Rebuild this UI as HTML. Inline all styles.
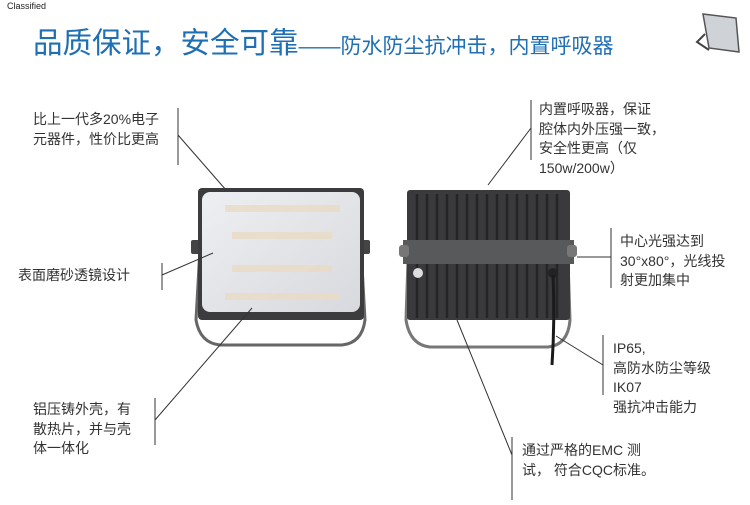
<!DOCTYPE html><html><head><meta charset="utf-8"><style>
body{margin:0;width:750px;height:505px;background:#fff;position:relative;overflow:hidden;font-family:"Liberation Sans","Noto Sans CJK SC",sans-serif}
.t{position:absolute;font-size:14px;line-height:19.5px;color:#333;white-space:nowrap}
</style></head><body>
<div class="t" style="left:7px;top:1px;font-size:9px;line-height:11px;color:#222">Classified</div>
<div style="position:absolute;left:33px;top:20px;color:#1f6fb4;white-space:nowrap;font-family:'Liberation Sans','Noto Sans CJK SC',sans-serif"><span style="font-size:29.5px">品质保证，安全可靠</span><span style="font-size:21px">——防水防尘抗冲击，内置呼吸器</span></div>
<svg width="750" height="505" style="position:absolute;left:0;top:0">
<defs><linearGradient id="g" x1="0" y1="0" x2="1" y2="1"><stop offset="0" stop-color="#eeeff2"/><stop offset="1" stop-color="#d8d9de"/></linearGradient></defs>
<g transform="translate(693,12)"><polygon points="10,2 43,6 46,40 16,36" fill="#cfd2d6" stroke="#555" stroke-width="1.5"/><path d="M12,22 L4,30 L16,38" fill="none" stroke="#444" stroke-width="2"/></g>
<path d="M200,248 L196,320 Q200,343 220,345 L342,345 Q362,343 365,320 L361,248" fill="none" stroke="#666" stroke-width="3"/>
<rect x="191" y="240" width="9" height="14" rx="2" fill="#444"/><rect x="361" y="240" width="9" height="14" rx="2" fill="#444"/>
<rect x="198" y="188" width="166" height="132" rx="4" fill="#3c3c3e"/>
<rect x="202" y="192" width="158" height="120" rx="8" fill="url(#g)"/>
<g fill="#eadcc4" opacity="0.8"><rect x="225" y="205" width="115" height="7"/><rect x="232" y="232" width="100" height="7"/><rect x="232" y="265" width="100" height="7"/><rect x="225" y="293" width="115" height="7"/></g>
<path d="M408,260 L406,320 Q410,345 430,347 L548,347 Q568,345 570,320 L568,260" fill="none" stroke="#777" stroke-width="3"/>
<rect x="407" y="190" width="163" height="130" rx="3" fill="#3a3a3c"/>
<g stroke="#252527" stroke-width="2.5">
<line x1="417" y1="194" x2="417" y2="318"/><line x1="427" y1="194" x2="427" y2="318"/><line x1="437" y1="194" x2="437" y2="318"/><line x1="447" y1="194" x2="447" y2="318"/><line x1="457" y1="194" x2="457" y2="318"/><line x1="467" y1="194" x2="467" y2="318"/><line x1="477" y1="194" x2="477" y2="318"/><line x1="487" y1="194" x2="487" y2="318"/><line x1="497" y1="194" x2="497" y2="318"/><line x1="507" y1="194" x2="507" y2="318"/><line x1="517" y1="194" x2="517" y2="318"/><line x1="527" y1="194" x2="527" y2="318"/><line x1="537" y1="194" x2="537" y2="318"/><line x1="547" y1="194" x2="547" y2="318"/><line x1="557" y1="194" x2="557" y2="318"/></g>
<rect x="403" y="240" width="171" height="24" fill="#58595b"/>
<rect x="399" y="245" width="10" height="12" rx="3" fill="#777"/><rect x="567" y="245" width="10" height="12" rx="3" fill="#777"/>
<circle cx="418" cy="273" r="5" fill="#ddd"/><circle cx="553" cy="273" r="5" fill="#222"/>
<path d="M553,275 Q555,320 552,365" fill="none" stroke="#1a1a1a" stroke-width="3"/>
<g stroke="#333" stroke-width="1" fill="none">
<line x1="178" y1="108" x2="178" y2="165"/><line x1="178" y1="135" x2="226" y2="190"/>
<line x1="162" y1="263" x2="162" y2="290"/><line x1="162" y1="275" x2="213" y2="253"/>
<line x1="155" y1="398" x2="155" y2="445"/><line x1="155" y1="420" x2="252" y2="308"/>
<line x1="531" y1="100" x2="531" y2="160"/><line x1="531" y1="128" x2="488" y2="185"/>
<line x1="611" y1="228" x2="611" y2="288"/><line x1="611" y1="257" x2="577" y2="257"/>
<line x1="603" y1="335" x2="603" y2="395"/><line x1="603" y1="365" x2="556" y2="336"/>
<line x1="512" y1="437" x2="512" y2="500"/><line x1="512" y1="455" x2="457" y2="320"/>
</g></svg>
<div class="t" style="left:33px;top:110px">比上一代多20%电子<br>元器件，性价比更高</div>
<div class="t" style="left:18px;top:266px">表面磨砂透镜设计</div>
<div class="t" style="left:33px;top:400px">铝压铸外壳，有<br>散热片，并与壳<br>体一体化</div>
<div class="t" style="left:539px;top:100px">内置呼吸器，保证<br>腔体内外压强一致，<br>安全性更高（仅<br>150w/200w）</div>
<div class="t" style="left:620px;top:232px">中心光强达到<br>30°x80°，光线投<br>射更加集中</div>
<div class="t" style="left:613px;top:339px">IP65,<br>高防水防尘等级<br>IK07<br>强抗冲击能力</div>
<div class="t" style="left:522px;top:441px">通过严格的EMC 测<br>试， 符合CQC标准。</div>
</body></html>
